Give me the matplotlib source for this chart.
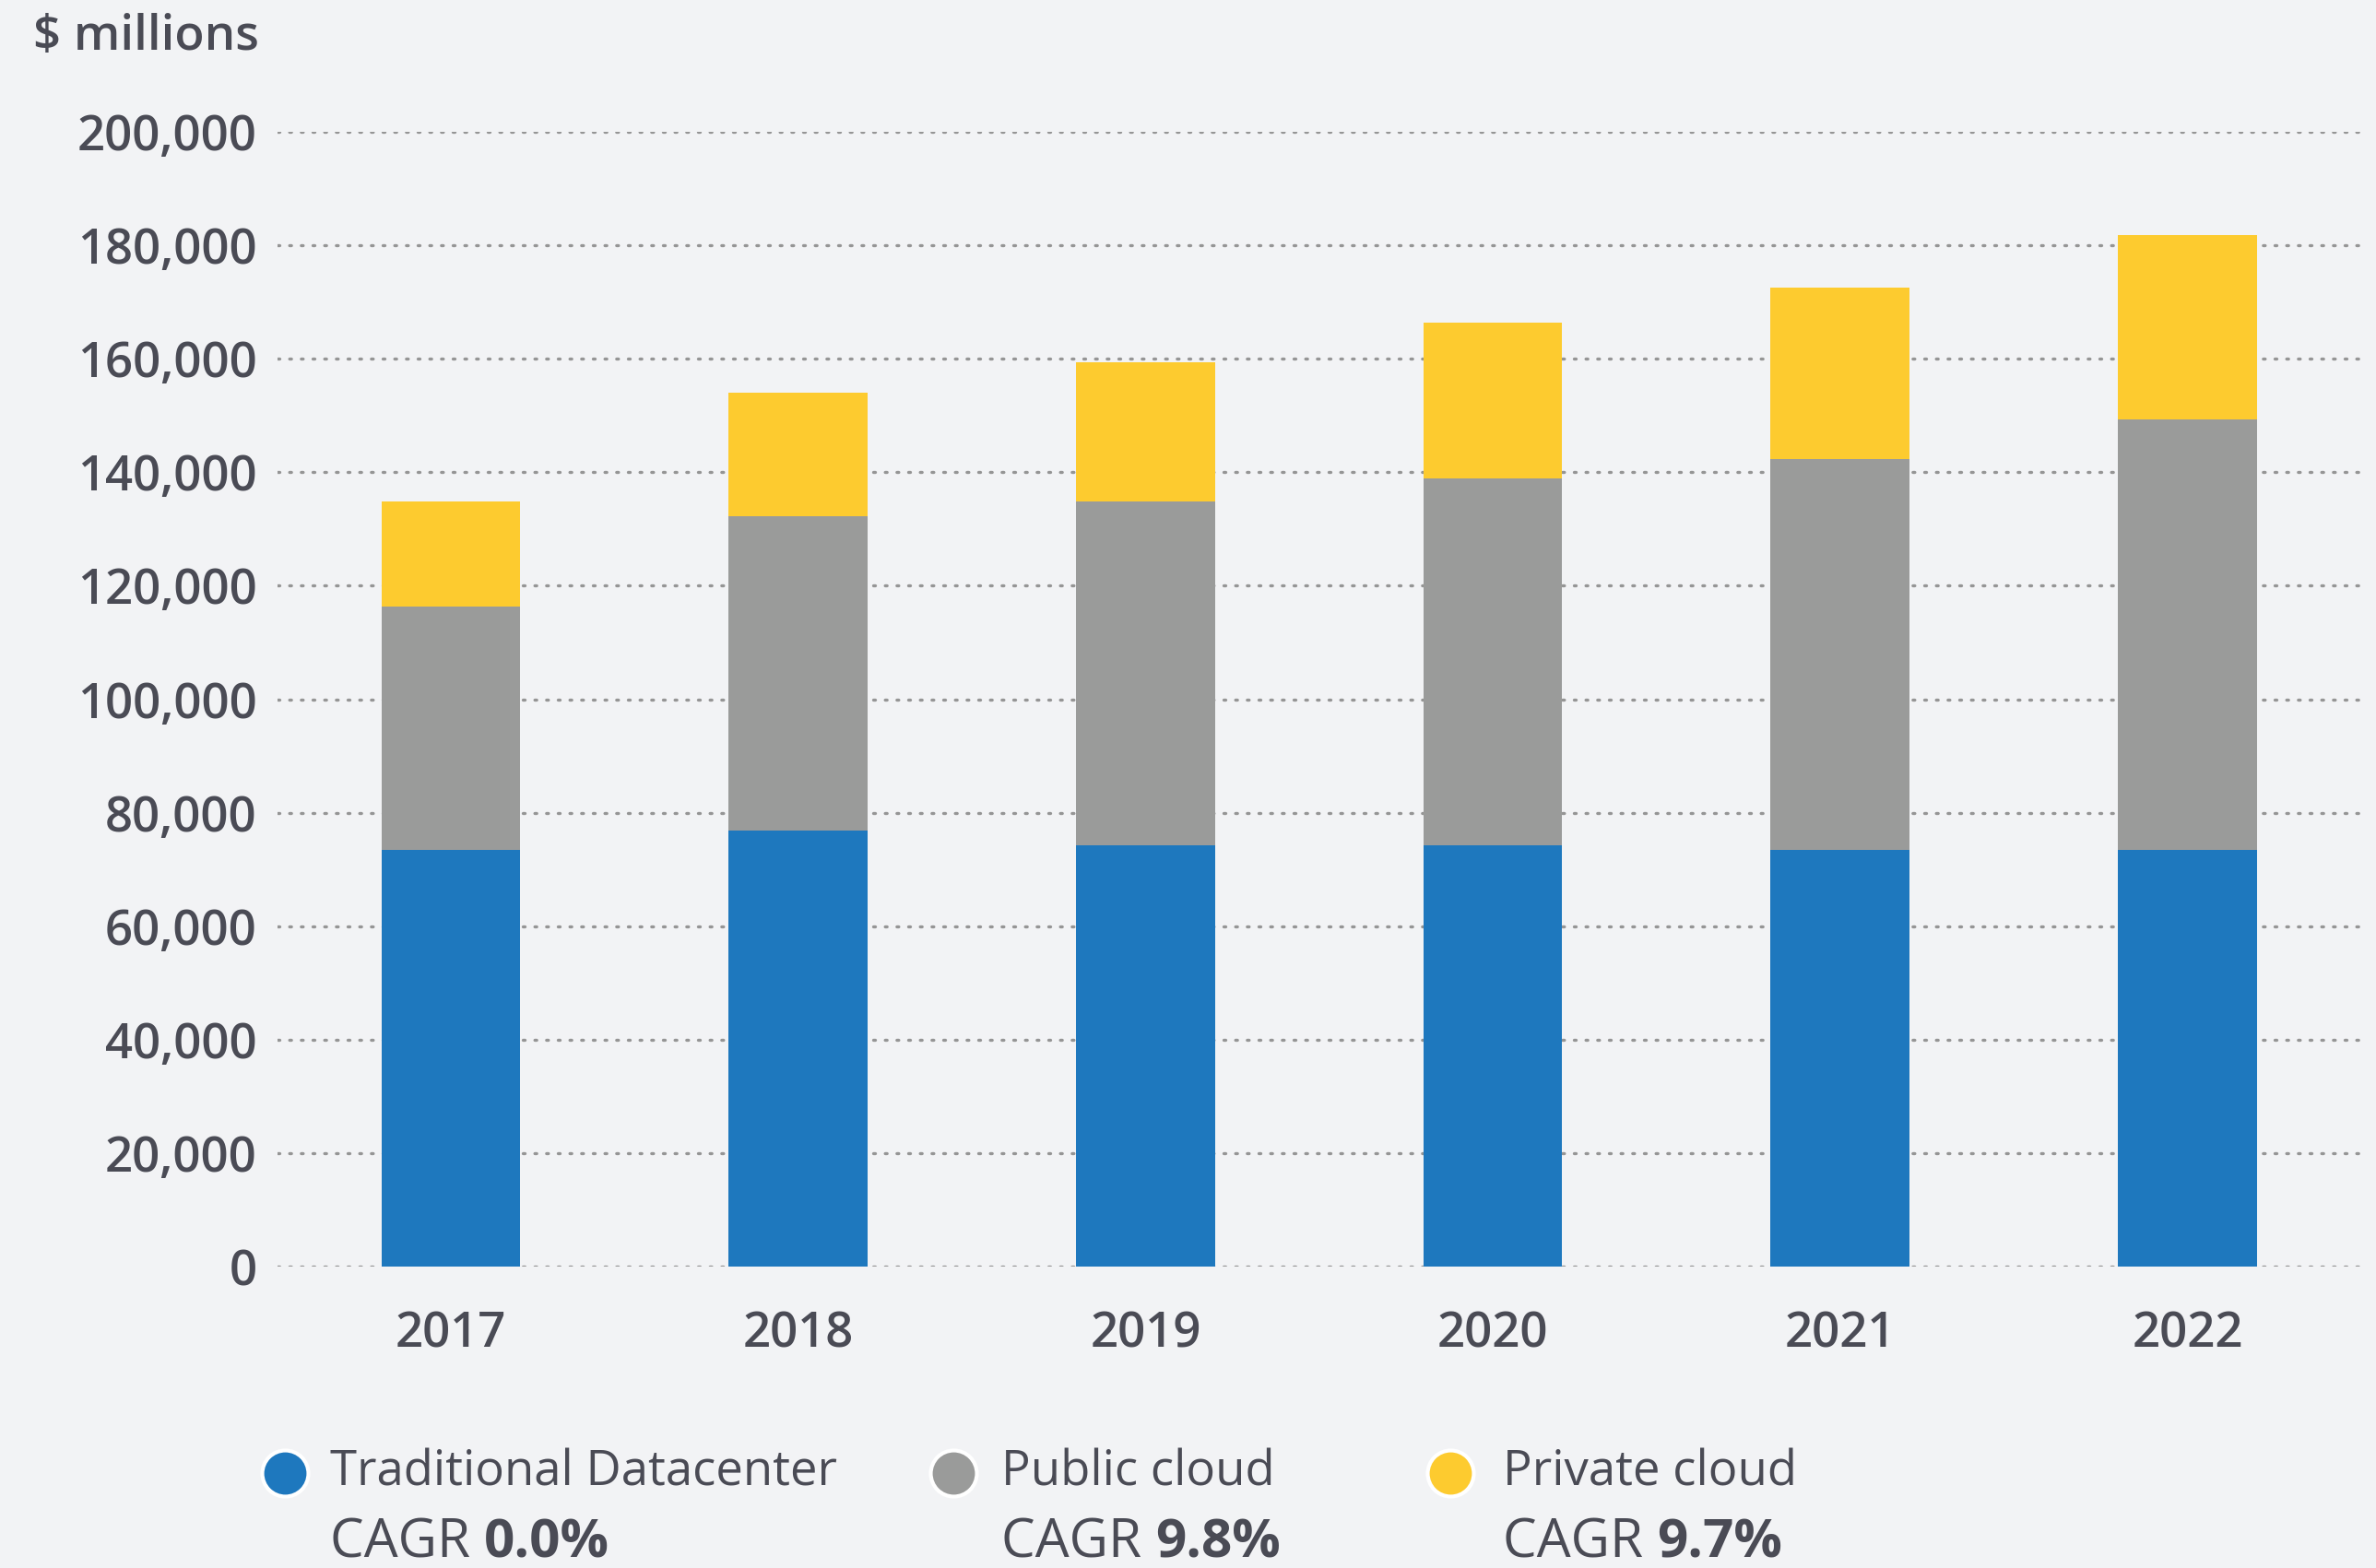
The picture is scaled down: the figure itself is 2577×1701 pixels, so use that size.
import matplotlib
matplotlib.use("Agg")
import matplotlib.pyplot as plt
from matplotlib.lines import Line2D
import numpy as np

# values ($ millions)
years = ["2017", "2018", "2019", "2020", "2021", "2022"]
traditional = [73400, 76900, 74200, 74200, 73400, 73400]
public_cloud = [43000, 55300, 60600, 64700, 68900, 75900]
private_cloud = [18400, 21900, 24600, 27500, 30200, 32500]

series_names = ["Traditional Datacenter", "Public cloud", "Private cloud"]
cagr = ["0.0%", "9.8%", "9.7%"]
y_ticks = [0, 20000, 40000, 60000, 80000, 100000, 120000, 140000, 160000, 180000, 200000]

BG = "#f2f3f5"
TXT = "#4a4b55"
COLORS = ["#1e78be", "#9a9b9a", "#fdcb2f"]

plt.rcParams["font.family"] = ["Open Sans", "DejaVu Sans"]

fig = plt.figure(figsize=(25.77, 17.01), dpi=100, facecolor=BG)
ax = fig.add_axes([0.1167, 0.1922, 0.877, 0.7237], facecolor=BG)

x = np.arange(len(years))
w = 0.40
b1 = np.array(traditional)
b2 = b1 + np.array(public_cloud)
ax.bar(x, traditional, w, color=COLORS[0], zorder=3)
ax.bar(x, public_cloud, w, bottom=b1, color=COLORS[1], zorder=3)
ax.bar(x, private_cloud, w, bottom=b2, color=COLORS[2], zorder=3)

ax.set_xlim(-0.5, len(years) - 0.5)
ax.set_ylim(0, 200000)
ax.set_yticks(y_ticks)
ax.set_yticklabels([f"{v:,}" for v in y_ticks])
ax.set_xticks(x)
ax.set_xticklabels(years)

for v in y_ticks:
    ax.axhline(v, color="#959595", lw=2.4, ls=(0, (0.6, 3.2)),
               dash_capstyle="round", zorder=1)

for s in ax.spines.values():
    s.set_visible(False)
ax.tick_params(axis="both", length=0, labelsize=38, colors=TXT)
ax.tick_params(axis="y", pad=16)
ax.tick_params(axis="x", pad=34)
for lab in ax.get_xticklabels() + ax.get_yticklabels():
    lab.set_fontweight("semibold")

fig.text(0.014, 0.992, "$ millions", fontsize=38, color=TXT,
         ha="left", va="top", fontweight="semibold")

# legend with CAGR lines
mark_x = [309, 1034, 1573]
text_x = [358, 1086, 1630]
row1_y = 1 - 1598 / 1701
row2_y = 1 - 1689 / 1701   # baseline, kept just inside the bottom edge
for i in range(3):
    fig.add_artist(Line2D([mark_x[i] / 2577], [row1_y], transform=fig.transFigure,
                          marker="o", markersize=36, markerfacecolor=COLORS[i],
                          markeredgecolor="white", markeredgewidth=3, ls="none"))
    fig.text(text_x[i] / 2577, row1_y, series_names[i], fontsize=38, color=TXT,
             ha="left", va="center")
    t = fig.text(text_x[i] / 2577, row2_y, "CAGR ", fontsize=42, color=TXT,
                 ha="left", va="baseline")
    ax.annotate(cagr[i], xy=(1, 0), xycoords=t, fontsize=42, color=TXT,
                fontweight="bold", ha="left", va="bottom",
                annotation_clip=False)

fig.savefig("out.png", dpi=100, facecolor=BG)
